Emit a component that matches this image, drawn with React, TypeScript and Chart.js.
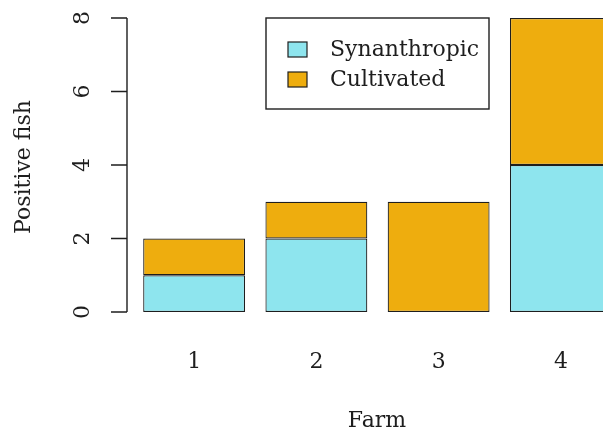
import React, { useEffect, useRef } from "react";
import { Chart, registerables } from "chart.js";

Chart.register(...registerables);

const farms = ["1", "2", "3", "4"];
const synanthropic = [1, 2, 0, 4];
const cultivated = [1, 1, 3, 4];
const yTicks = [0, 2, 4, 6, 8];
const seriesNames = ["Synanthropic", "Cultivated"];
const seriesColors = ["#8EE5EE", "#EEAD0E"];

const FONT = "'DejaVu Serif', 'Liberation Serif', serif";
const INK = "#1e1e1e";

// Base-graphics style axes, labels and boxed legend
const baseAxesPlugin = {
  id: "baseAxes",
  afterDraw(chart: any) {
    const ctx = chart.ctx as CanvasRenderingContext2D;
    const y = chart.scales.y;
    const x = chart.scales.x;
    const axisX = 127;
    ctx.save();
    ctx.strokeStyle = INK;
    ctx.fillStyle = INK;
    ctx.lineWidth = 1.4;

    // y axis line and ticks
    const yTop = y.getPixelForValue(yTicks[yTicks.length - 1]);
    const yBot = y.getPixelForValue(yTicks[0]);
    ctx.beginPath();
    ctx.moveTo(axisX, yTop);
    ctx.lineTo(axisX, yBot);
    yTicks.forEach((t) => {
      const py = y.getPixelForValue(t);
      ctx.moveTo(axisX, py);
      ctx.lineTo(axisX - 16, py);
    });
    ctx.stroke();

    // y tick labels, rotated
    ctx.font = `22px ${FONT}`;
    ctx.textAlign = "center";
    ctx.textBaseline = "middle";
    yTicks.forEach((t) => {
      const py = y.getPixelForValue(t);
      ctx.save();
      ctx.translate(83, py);
      ctx.rotate(-Math.PI / 2);
      ctx.fillText(String(t), 0, 0);
      ctx.restore();
    });

    // y axis title
    ctx.save();
    ctx.translate(24, (yTop + yBot) / 2 + 2);
    ctx.rotate(-Math.PI / 2);
    ctx.fillText("Positive fish", 0, 0);
    ctx.restore();

    // x category labels
    farms.forEach((f, i) => {
      ctx.fillText(f, x.getPixelForValue(i), 362);
    });
    // x axis title
    ctx.fillText("Farm", 377, 421);

    // legend
    const lx = 266, ly = 18, lw = 223, lh = 91;
    ctx.fillStyle = "#ffffff";
    ctx.fillRect(lx, ly, lw, lh);
    ctx.lineWidth = 1.4;
    ctx.strokeStyle = INK;
    ctx.strokeRect(lx, ly, lw, lh);
    ctx.textAlign = "left";
    seriesNames.forEach((name, i) => {
      const cy = 50 + i * 30;
      ctx.fillStyle = seriesColors[i];
      ctx.fillRect(288, cy - 8, 19, 15);
      ctx.lineWidth = 1.2;
      ctx.strokeStyle = INK;
      ctx.strokeRect(288, cy - 8, 19, 15);
      ctx.fillStyle = INK;
      ctx.fillText(name, 330, cy);
    });
    ctx.restore();
  },
};

export default function App() {
  const ref = useRef<HTMLCanvasElement | null>(null);

  useEffect(() => {
    if (!ref.current) return;
    const chart = new Chart(ref.current, {
      type: "bar",
      data: {
        labels: farms,
        datasets: [
          {
            label: seriesNames[0],
            data: synanthropic,
            backgroundColor: seriesColors[0],
            borderColor: INK,
            borderWidth: 1.2,
            borderSkipped: false,
            categoryPercentage: 1,
            barPercentage: 1 / 1.2,
          },
          {
            label: seriesNames[1],
            data: cultivated,
            backgroundColor: seriesColors[1],
            borderColor: INK,
            borderWidth: 1.2,
            borderSkipped: false,
            categoryPercentage: 1,
            barPercentage: 1 / 1.2,
          },
        ],
      },
      options: {
        responsive: false,
        animation: false,
        layout: { padding: { left: 133, right: 18, top: 18, bottom: 121 } },
        plugins: { legend: { display: false }, tooltip: { enabled: false } },
        scales: {
          x: { stacked: true, display: false },
          y: { stacked: true, display: false, min: 0, max: 8 },
        },
      },
      plugins: [baseAxesPlugin],
    });
    return () => chart.destroy();
  }, []);

  return (
    <div
      style={{
        position: "fixed",
        left: 0,
        top: 0,
        width: 603,
        height: 433,
        overflow: "hidden",
        background: "#ffffff",
      }}
    >
      <canvas ref={ref} width={640} height={433} style={{ display: "block" }} />
    </div>
  );
}
